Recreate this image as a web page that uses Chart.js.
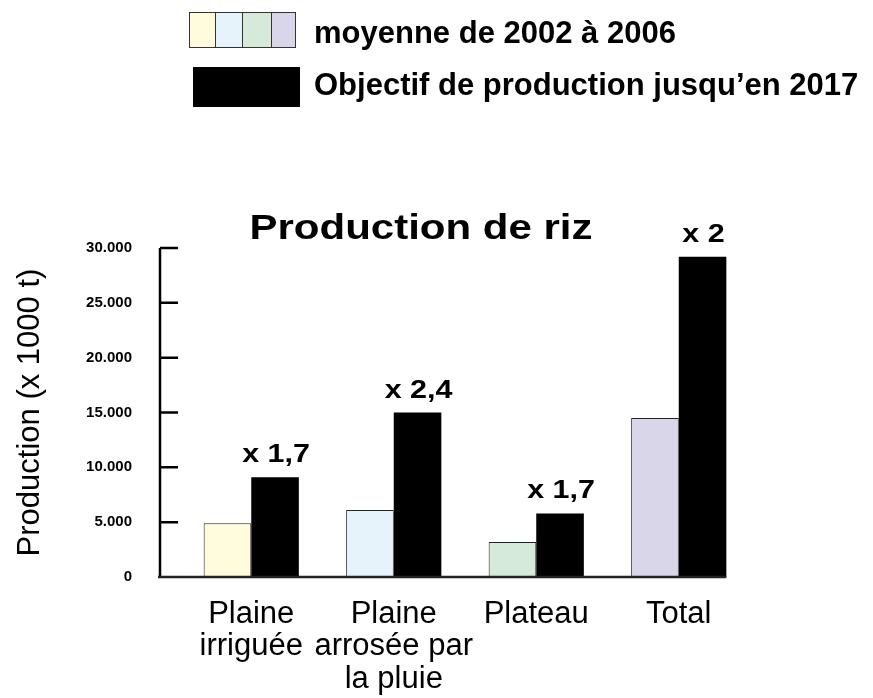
<!DOCTYPE html>
<html>
<head>
<meta charset="utf-8">
<script src="https://cdn.jsdelivr.net/npm/chart.js@4/dist/chart.umd.min.js"></script>
<style>
  body { margin: 0; background: #fff; font-family: "Liberation Sans", Arial, sans-serif; }
  #wrap { position: relative; width: 873px; height: 698px; }
  canvas { position: absolute; left: 0; top: 0; }
  .sw { position: absolute; box-sizing: border-box; border: 1px solid #333; }
  .lg { position: absolute; font-weight: bold; font-size: 31px; line-height: 31px; color: #000; white-space: nowrap; }
</style>
</head>
<body>
<div id="wrap">
  <canvas id="chart" width="873" height="698"></canvas>
  <div class="sw" style="left:189px;top:12px;width:27px;height:36px;background:#fffbdc"></div>
  <div class="sw" style="left:215px;top:12px;width:28px;height:36px;background:#e6f3fb"></div>
  <div class="sw" style="left:242px;top:12px;width:30px;height:36px;background:#d6eada"></div>
  <div class="sw" style="left:271px;top:12px;width:25px;height:36px;background:#d9d6ea"></div>
  <div class="lg" style="left:314px;top:17px">moyenne de 2002 à 2006</div>
  <div class="sw" style="left:193px;top:67px;width:107px;height:40px;background:#000;border-color:#000"></div>
  <div class="lg" style="left:314px;top:69px">Objectif de production jusqu’en 2017</div>
</div>
<script>
// data (x 1000 t)
const categories = [["Plaine", "irriguée"], ["Plaine", "arrosée par", "la pluie"], "Plateau", "Total"];
const avgValues = [4900, 6100, 3200, 14500];
const goalValues = [9100, 15000, 5800, 29200];
const multipliers = ["x 1,7", "x 2,4", "x 1,7", "x 2"];
const avgColors = ["#fffbdc", "#e6f3fb", "#d6eada", "#d9d6ea"];
const yTickValues = [0, 5000, 10000, 15000, 20000, 25000, 30000];

const FONT = "'Liberation Sans', Arial, sans-serif";

function fmt(v) {
  return v === 0 ? "0" : (v / 1000).toFixed(3);
}

// axis lines, tick marks, the "x n" labels and the title
const decor = {
  id: "decor",
  afterDatasetsDraw(chart) {
    const ctx = chart.ctx;
    const y = chart.scales.y;
    const axisX = 160;
    const y0 = y.getPixelForValue(0);
    const yTop = y.getPixelForValue(30000);
    const goalBars = chart.getDatasetMeta(1).data;
    const lastBar = goalBars[goalBars.length - 1];

    ctx.save();
    ctx.strokeStyle = "#000";
    ctx.lineWidth = 2.5;
    ctx.beginPath();
    ctx.moveTo(axisX, yTop);
    ctx.lineTo(axisX, y0 + 1);
    yTickValues.forEach(v => {
      if (v === 0) return;
      const py = y.getPixelForValue(v);
      ctx.moveTo(axisX, py);
      ctx.lineTo(axisX + 18, py);
    });
    ctx.stroke();

    ctx.strokeStyle = "#222";
    ctx.beginPath();
    ctx.moveTo(axisX - 2, y0);
    ctx.lineTo(lastBar.x + lastBar.width / 2, y0);
    ctx.stroke();

    // multipliers above the goal bars
    ctx.fillStyle = "#000";
    ctx.font = "bold 25px " + FONT;
    ctx.textAlign = "center";
    ctx.textBaseline = "alphabetic";
    goalBars.forEach((bar, i) => {
      ctx.save();
      ctx.translate(bar.x + 1, bar.y - 15);
      ctx.scale(1.22, 1);
      ctx.fillText(multipliers[i], 0, 0);
      ctx.restore();
    });

    // chart title
    ctx.font = "bold 35px " + FONT;
    ctx.translate(421, 239);
    ctx.scale(1.2, 1);
    ctx.fillText("Production de riz", 0, 0);
    ctx.restore();
  }
};

new Chart(document.getElementById("chart"), {
  type: "bar",
  data: {
    labels: categories,
    datasets: [
      {
        label: "moyenne de 2002 à 2006",
        data: avgValues,
        backgroundColor: avgColors,
        borderColor: "#222",
        borderWidth: { top: 1, left: 1, right: 1, bottom: 0 },
        borderSkipped: false,
        categoryPercentage: 0.668,
        barPercentage: 1,
      },
      {
        label: "Objectif de production jusqu’en 2017",
        data: goalValues,
        backgroundColor: "#000",
        borderWidth: 0,
        categoryPercentage: 0.668,
        barPercentage: 1,
      },
    ],
  },
  options: {
    responsive: false,
    animation: false,
    layout: { padding: { top: 248, right: 123, bottom: 0, left: 0 } },
    plugins: {
      legend: { display: false },
      title: { display: false },
      tooltip: { enabled: false },
    },
    scales: {
      x: {
        grid: { display: false, drawTicks: false },
        border: { display: false },
        offset: true,
        ticks: {
          color: "#000",
          padding: 21,
          maxRotation: 0,
          autoSkip: false,
          font: { family: FONT, size: 31, lineHeight: 1.05 },
        },
        afterFit(scale) { scale.height = 121; },
      },
      y: {
        min: 0,
        max: 30000,
        grid: { display: false, drawTicks: false },
        border: { display: false },
        ticks: {
          stepSize: 5000,
          color: "#000",
          padding: 48,
          font: { family: FONT, size: 15, weight: "bold" },
          callback: v => fmt(v),
        },
        title: {
          display: true,
          text: "Production (x 1000 t)",
          color: "#000",
          padding: { top: 12, bottom: 0 },
          font: { family: FONT, size: 31, lineHeight: 1.2 },
        },
        afterFit(scale) { scale.width = 180; },
      },
    },
  },
  plugins: [decor],
});
</script>
</body>
</html>
